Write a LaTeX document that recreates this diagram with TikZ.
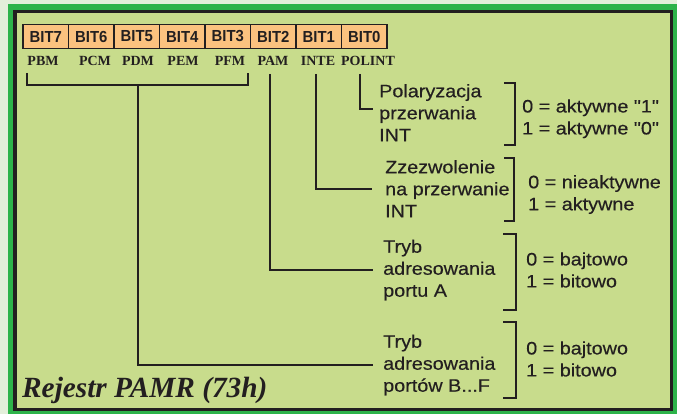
\documentclass[tikz,border=0pt]{standalone}
\usepackage{fontspec}
\setmainfont{Liberation Serif}
\setsansfont{Liberation Sans}
\newfontfamily\descfont[FakeStretch=1.1,FakeBold=0.4]{Liberation Sans}
\newfontfamily\bitfont[FakeStretch=0.93]{Liberation Sans}
\definecolor{pagebg}{HTML}{E3EFDA}
\definecolor{framegreen}{HTML}{2DB34A}
\definecolor{panel}{HTML}{C8DC8C}
\definecolor{bitfill}{HTML}{FBC27F}
\definecolor{ink}{HTML}{231F20}
\begin{document}
\begin{tikzpicture}[x=1pt,y=-1pt,
  bitbox/.style={draw=ink, line width=1.8pt, fill=bitfill, minimum width=45.5pt, minimum height=24pt, inner sep=0pt,
    text=ink, font=\bitfont\bfseries\fontsize{16}{16}\selectfont},
  lbl/.style={anchor=base, inner sep=0pt, text=ink, font=\bfseries\fontsize{14}{14}\selectfont},
  desc/.style={align=left, anchor=north west, inner sep=0pt, text=ink, font=\descfont\fontsize{18}{22}\selectfont},
  conn/.style={draw=ink, line width=2pt},
  brk/.style={draw=ink, line width=2.7pt, line join=miter}]
\useasboundingbox (0,0) rectangle (677,414);
% frame
\fill[pagebg] (0,0) rectangle (677,414);
\fill[framegreen] (8,4) rectangle (680,418);
\fill[ink] (13,10) rectangle (673,411);
\fill[panel] (16.5,13) rectangle (670,408);
% bits
\foreach \i/\t in {0/BIT7,1/BIT6,2/BIT5,3/BIT4,4/BIT3,5/BIT2,6/BIT1,7/BIT0}
  \node[bitbox] (b\i) at ({45.75+45.5*\i},36.5) {\t};
% labels
\node[lbl] (pbm) at (43,66) {PBM};
\node[lbl] (pcm) at (95,66) {PCM};
\node[lbl] (pdm) at (138,66) {PDM};
\node[lbl] (pem) at (183,66) {PEM};
\node[lbl] (pfm) at (230,66) {PFM};
\node[lbl] (pam) at (273,66) {PAM};
\node[lbl] (inte) at (318,66) {INTE};
\node[lbl] (polint) at (368,66) {POLINT};
% descriptions
\node[desc] (polar) at (379,84) {Polaryzacja\\przerwania\\INT};
\node[desc] (zzez) at (385,160) {Zzezwolenie\\na przerwanie\\INT};
\node[desc] (portA) at (383,239.5) {Tryb\\adresowania\\portu A};
\node[desc] (portBF) at (383,334.5) {Tryb\\adresowania\\portów B...F};
% values
\node[desc] (v1) at (522,99.2) {0 = aktywne "1"\\1 = aktywne "0"};
\node[desc] (v2) at (528,175) {0 = nieaktywne\\1 = aktywne};
\node[desc] (v3) at (526,252.2) {0 = bajtowo\\1 = bitowo};
\node[desc] (v4) at (526,341.2) {0 = bajtowo\\1 = bitowo};
% brackets
\draw[brk] (504,83) -- (515,83) -- (515,145) -- (504,145);
\draw[brk] (504,158) -- (514,158) -- (514,221) -- (504,221);
\draw[brk] (503,234) -- (516,234) -- (516,310) -- (503,310);
\draw[brk] (503,322) -- (516,322) -- (516,398) -- (503,398);
% connectors
\coordinate (pbmt) at (27,73);
\coordinate (pfmt) at (248,73);
\coordinate (grp) at (138,85);
\coordinate (pamt) at (270,74);
\coordinate (intet) at (316,74);
\coordinate (polt) at (360,74);
\draw[conn, line width=2.4pt] (pbmt) |- (grp) -| (pfmt);
\draw[conn] (grp) |- ([xshift=-10pt]portBF.west);
\draw[conn] (pamt) |- ([xshift=-10pt]portA.west);
\draw[conn] (intet) |- ([xshift=-13pt]zzez.west);
\draw[conn] (polt) |- ([xshift=-6pt,yshift=4pt]polar.west);
% title
\node[anchor=base west, inner sep=0pt, text=ink, font=\bfseries\itshape\fontsize{29.3}{30}\selectfont] (title) at (22,397) {Rejestr PAMR (73h)};
\end{tikzpicture}
\end{document}
